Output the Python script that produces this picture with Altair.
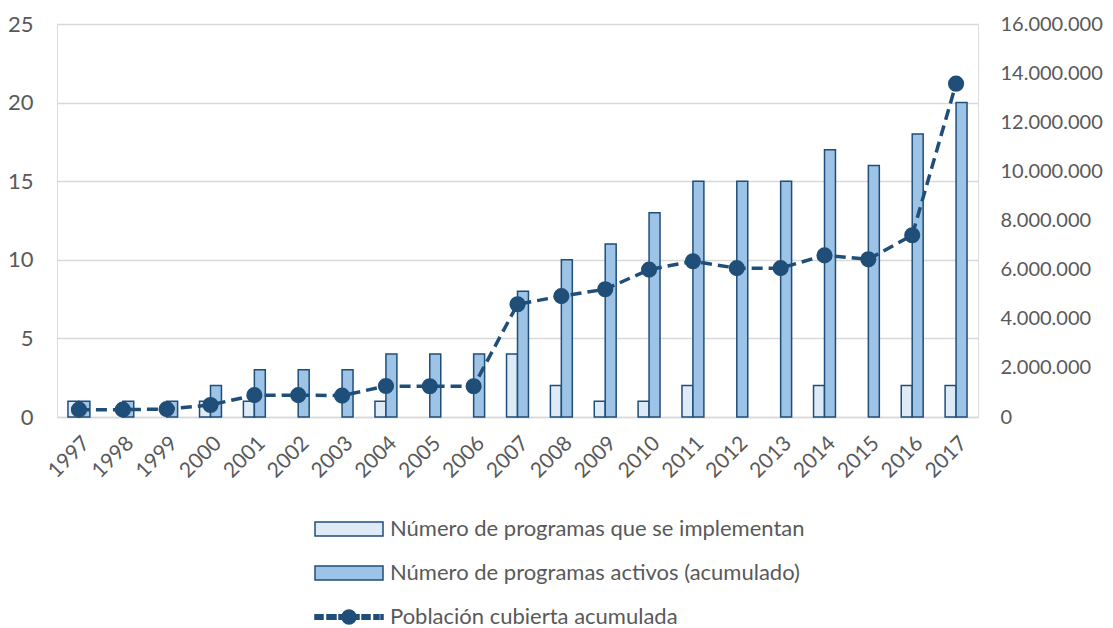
import altair as alt
import pandas as pd

years = ["1997", "1998", "1999", "2000", "2001", "2002", "2003", "2004", "2005", "2006", "2007",
         "2008", "2009", "2010", "2011", "2012", "2013", "2014", "2015", "2016", "2017"]
implementados = [1, 0, 0, 1, 1, 0, 0, 1, 0, 0, 4, 2, 1, 1, 2, 0, 0, 2, 0, 2, 2]
activos = [1, 1, 1, 2, 3, 3, 3, 4, 4, 4, 8, 10, 11, 13, 15, 15, 15, 17, 16, 18, 20]
poblacion = [300000, 300000, 320000, 490000, 890000, 890000, 870000, 1260000, 1250000, 1250000,
             4590000, 4920000, 5200000, 6000000, 6340000, 6060000, 6060000, 6580000, 6420000,
             7400000, 13570000]

s1 = "Número de programas que se implementan"
s2 = "Número de programas activos (acumulado)"
s3 = "Población cubierta acumulada"
series = [s1, s2, s3]

DARK = "#1F4E79"
LIGHT = "#DEEBF7"
MID = "#9DC3E6"
GRID = "#D9D9D9"
TXT = "#595959"
FONT = "Lato"

bars_df = pd.DataFrame({
    "year": years * 2,
    "serie": [s1] * len(years) + [s2] * len(years),
    "valor": implementados + activos,
})
line_df = pd.DataFrame({"year": years, "poblacion": poblacion, "serie": [s3] * len(years)})
legend_df = pd.DataFrame({"year": years[:3], "serie": series})

rect_path = "M-3.4,-0.7H3.4V0.7H-3.4Z"
line_path = ("M-3.4,-0.22H-2.6V0.22H-3.4Z M-2.2,-0.22H-1.3V0.22H-2.2Z "
             "M0.7,0A0.7,0.7 0 1,1 -0.7,0A0.7,0.7 0 1,1 0.7,0Z "
             "M-1.0,-0.22H1.0V0.22H-1.0Z "
             "M1.3,-0.22H2.1V0.22H1.3Z M2.5,-0.22H3.0V0.22H2.5Z M3.2,-0.22H3.4V0.22H3.2Z")

fill_scale = alt.Scale(domain=series, range=[LIGHT, MID, DARK])
shape_scale = alt.Scale(domain=series, range=[rect_path, rect_path, line_path])

legend_spec = alt.Legend(title=None, orient="none", legendX=259, legendY=494,
                         direction="vertical", symbolSize=400, symbolOffset=22,
                         labelOffset=30, labelFontSize=22, labelColor=TXT,
                         labelFont=FONT, rowPadding=22, labelLimit=700,
                         symbolStrokeColor=DARK, symbolStrokeWidth=1.5)

x_enc = alt.X("year:O", sort=years, title=None,
              scale=alt.Scale(paddingInner=0.5, paddingOuter=0.25),
              axis=alt.Axis(labelAngle=-45, labelFontSize=21, labelColor=TXT, labelFont=FONT,
                            domainColor=GRID, domainWidth=1.5, ticks=False, labelPadding=15,
                            grid=False))

bars = alt.Chart(bars_df).transform_filter("datum.valor > 0").mark_bar(
    stroke=DARK, strokeWidth=1.5
).encode(
    x=x_enc,
    xOffset=alt.XOffset("serie:N", scale=alt.Scale(domain=[s1, s2], paddingInner=0, paddingOuter=0)),
    y=alt.Y("valor:Q", title=None, scale=alt.Scale(domain=[0, 25], nice=False),
            axis=alt.Axis(values=[0, 5, 10, 15, 20, 25], labelFontSize=22, labelColor=TXT,
                          labelFont=FONT, domain=False, ticks=False, gridColor=GRID,
                          gridWidth=1.5, labelPadding=24)),
    fill=alt.Fill("serie:N", scale=fill_scale, legend=legend_spec),
)

legend_layer = alt.Chart(legend_df).transform_filter("false").mark_point(
    filled=True, stroke=DARK, strokeWidth=1.5, opacity=1
).encode(
    x=alt.X("year:O", sort=years),
    y=alt.Y("valor:Q"),
    fill=alt.Fill("serie:N", scale=fill_scale, legend=legend_spec),
    shape=alt.Shape("serie:N", scale=shape_scale, legend=legend_spec),
)

left = alt.layer(bars, legend_layer)

line_base = alt.Chart(line_df).encode(
    x=alt.X("year:O", sort=years),
    y=alt.Y("poblacion:Q", title=None, scale=alt.Scale(domain=[0, 16000000], nice=False),
            axis=alt.Axis(orient="right", values=[0, 2000000, 4000000, 6000000, 8000000,
                                                  10000000, 12000000, 14000000, 16000000],
                          labelExpr="replace(format(datum.value, ','), regexp(',', 'g'), '.')",
                          labelFontSize=20, labelColor=TXT, labelFont=FONT, domain=False,
                          ticks=False, grid=False, labelPadding=22)),
)
line = line_base.mark_line(stroke=DARK, strokeWidth=3.5, strokeDash=[11, 6])
points = line_base.mark_point(filled=True, fill=DARK, stroke=DARK, size=200, opacity=1)
right = alt.layer(line, points)

chart = alt.layer(left, right).resolve_scale(y="independent").properties(
    width=921, height=393,
    autosize=alt.AutoSizeParams(type="none"),
    padding={"left": 49, "top": 16, "right": 127, "bottom": 211},
).configure_view(stroke=None).configure(font=FONT)

chart.save("out.html", embed_options={"renderer": "svg", "actions": False})
